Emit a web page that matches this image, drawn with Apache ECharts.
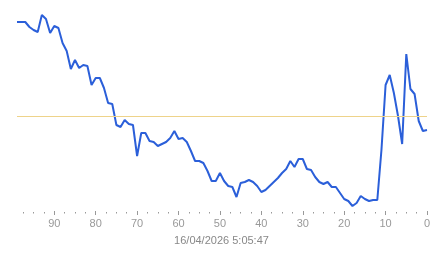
<!DOCTYPE html>
<html>
<head>
<meta charset="utf-8">
<script src="https://cdn.jsdelivr.net/npm/echarts@6/dist/echarts.min.js"></script>
<style>
html,body{margin:0;padding:0;background:#fff;}
#chart{width:443px;height:258px;}
</style>
</head>
<body>
<div id="chart"></div>
<script>
// Seconds ago (x) for each sample, oldest first
var secondsAgo = [99,98,97,96,95,94,93,92,91,90,89,88,87,86,85,84,83,82,81,80,
  79,78,77,76,75,74,73,72,71,70,69,68,67,66,65,64,63,62,61,60,
  59,58,57,56,55,54,53,52,51,50,49,48,47,46,45,44,43,42,41,40,
  39,38,37,36,35,34,33,32,31,30,29,28,27,26,25,24,23,22,21,20,
  19,18,17,16,15,14,13,12,11,10,9,8,7,6,5,4,3,2,1,0];
// Series values (arbitrary units)
var values = [189,189,189,184,181,179,196,192,178,185,183,168,160,142,151,143,146,145,126,133,
  133,123,108,107,86,84,91,87,86,55,78,78,70,69,65,67,69,73,80,72,
  73,69,60,50,50,48,40,30,30,38,30,25,24,14,28,29,31,29,25,19,
  21,25,29,33,38,42,50,44,52,52,42,41,34,29,27,29,24,24,18,12,
  10,5,8,15,12,10,11,11,61,126,136,118,95,67,157,122,117,90,80,81];
var referenceValue = 95;
var majorTicks = [0,10,20,30,40,50,60,70,80,90];
var minorTicks = [2.5,5,7.5,12.5,15,17.5,22.5,25,27.5,32.5,35,37.5,42.5,45,47.5,
  52.5,55,57.5,62.5,65,67.5,72.5,75,77.5,82.5,85,87.5,92.5,95,97.5];
var titleText = '16/04/2026 5:05:47';

var data = secondsAgo.map(function(s, i){ return [s, values[i]]; });
var font = '"Liberation Sans", Arial, sans-serif';

var chart = echarts.init(document.getElementById('chart'), null, {renderer:'canvas'});
chart.setOption({
  animation: false,
  backgroundColor: '#ffffff',
  title: {
    text: titleText,
    left: 'center',
    top: 235,
    padding: 0,
    textStyle: {fontSize: 11, fontWeight: 'normal', color: '#888888', fontFamily: font}
  },
  grid: {left: 17, right: 16, top: 11, bottom: 47},
  xAxis: [{
    type: 'value', min: 0, max: 99, inverse: true, position: 'bottom',
    axisLine: {show: false},
    axisTick: {show: true, length: 4, customValues: majorTicks, lineStyle: {color: '#999999'}},
    axisLabel: {customValues: majorTicks, color: '#999999', fontSize: 11, fontFamily: font, margin: 7},
    splitLine: {show: false}
  }, {
    type: 'value', min: 0, max: 99, inverse: true, position: 'bottom', offset: 1,
    axisLine: {show: false},
    axisTick: {show: true, length: 1.5, customValues: minorTicks, lineStyle: {color: '#999999'}},
    axisLabel: {show: false},
    splitLine: {show: false}
  }],
  yAxis: {type: 'value', min: 0, max: 200, show: false, splitLine: {show: false}},
  series: [{
    type: 'line',
    xAxisIndex: 0,
    data: data,
    showSymbol: false,
    symbol: 'none',
    lineStyle: {color: '#2b5fd9', width: 2},
    z: 3,
    markLine: {
      silent: true,
      symbol: ['none','none'],
      label: {show: false},
      lineStyle: {color: '#eed38a', width: 1, type: 'solid'},
      data: [{yAxis: referenceValue}]
    }
  }]
});
</script>
</body>
</html>
